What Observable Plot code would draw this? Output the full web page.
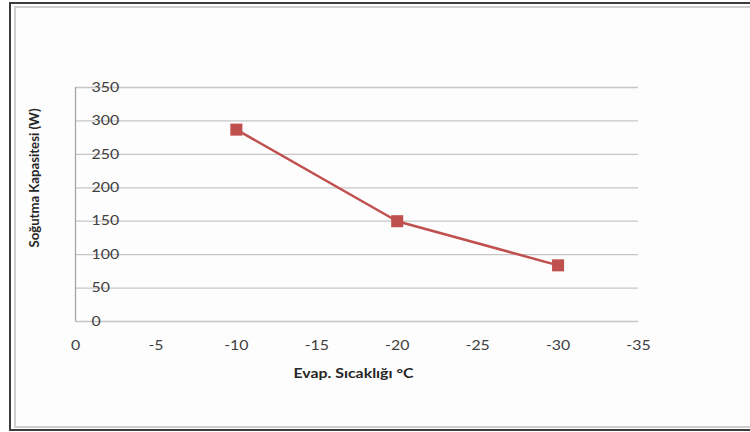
<!DOCTYPE html>
<html>
<head>
<meta charset="utf-8">
<script src="https://cdn.jsdelivr.net/npm/d3@7"></script>
<script src="https://cdn.jsdelivr.net/npm/@observablehq/plot@0.6"></script>
<style>
  html, body { margin: 0; padding: 0; background: #ffffff; }
  #wrap { position: relative; width: 750px; height: 432px; overflow: hidden; background: #ffffff; }
  #outer { position: absolute; left: 9px; top: 2px; width: 760px; height: 425px;
           border-top: 2px solid #3c3c3c; border-left: 2px solid #3c3c3c; border-bottom: 2px solid #3c3c3c; }
  #inner { position: absolute; left: 14px; top: 6px; width: 760px; height: 418px; background: #fdfdfd;
           border-top: 2px solid #cfcfcf; border-left: 2px solid #cfcfcf; border-bottom: 2px solid #cfcfcf; }
  #chart { position: absolute; left: 0; top: 0; }
</style>
</head>
<body>
<div id="wrap">
  <div id="outer"></div>
  <div id="inner"></div>
  <div id="chart"></div>
</div>
<script>
// Data
const temps = [-10, -20, -30];            // Evap. Sıcaklığı °C
const capacity = [287, 150, 84];          // Soğutma Kapasitesi (W)
const xTicks = [0, -5, -10, -15, -20, -25, -30, -35];
const yTicks = [0, 50, 100, 150, 200, 250, 300, 350];
const xTitle = "Evap. Sıcaklığı °C";
const yTitle = "Soğutma Kapasitesi (W)";

const data = temps.map((t, i) => ({t, c: capacity[i]}));
const font = "Lato, 'Open Sans', sans-serif";
const red = "#c0504d";

const chart = Plot.plot({
  width: 750,
  height: 432,
  marginLeft: 75,
  marginRight: 112,
  marginTop: 87,
  marginBottom: 111,
  style: {background: "transparent", fontFamily: font, overflow: "visible"},
  x: {domain: [0, -35], axis: null},
  y: {domain: [0, 350], axis: null},
  marks: [
    Plot.ruleY(yTicks, {x1: 0, x2: -35, stroke: "#c6c6c6", strokeWidth: 1.3}),
    Plot.ruleX([0], {y1: 0, y2: 350, stroke: "#a6a6a6", strokeWidth: 1.3}),
    Plot.text(yTicks, {x: 0, y: d => d, dx: 16, textAnchor: "start", text: d => String(d),
      fontSize: 13, fill: "#404040", className: "tick-lbl"}),
    Plot.text(xTicks, {x: d => d, y: 0, dy: 24, text: d => String(d),
      fontSize: 13, fill: "#404040", className: "tick-lbl"}),
    Plot.text([xTitle], {frameAnchor: "bottom", lineAnchor: "middle", textAnchor: "middle", dy: 52, dx: -3.5,
      fontSize: 13, fontWeight: "bold", fill: "#262626", className: "x-title"}),
    Plot.text([yTitle], {frameAnchor: "left", textAnchor: "middle", dx: -41, dy: -26.5, rotate: -90,
      fontSize: 13, fontWeight: "bold", fill: "#262626", className: "y-title"}),
    Plot.line(data, {x: "t", y: "c", stroke: red, strokeWidth: 2.5}),
    Plot.dot(data, {x: "t", y: "c", symbol: "square", r: 6.8, fill: red, stroke: "none"})
  ]
});
document.getElementById("chart").appendChild(chart);

// The reference's horizontal text is drawn slightly stretched; widen it to match.
function stretch(sel, f) {
  chart.querySelectorAll(sel).forEach(t => {
    const w = t.getComputedTextLength();
    if (w > 0) {
      t.setAttribute("textLength", (typeof f === "function" ? f(w) : w * f).toFixed(1));
      t.setAttribute("lengthAdjust", "spacingAndGlyphs");
    }
  });
}
stretch(".tick-lbl text", 1.22);
stretch(".x-title text", () => 120);
stretch(".y-title text", () => 139);
</script>
</body>
</html>
